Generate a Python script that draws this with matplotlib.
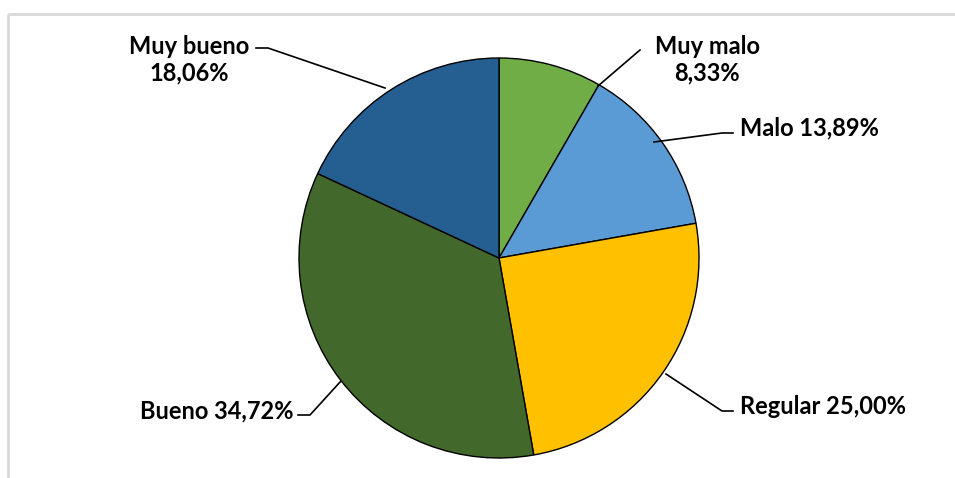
import matplotlib
matplotlib.use("Agg")
import matplotlib.pyplot as plt

categories = ["Muy malo", "Malo", "Regular", "Bueno", "Muy bueno"]
values = [8.33, 13.89, 25.00, 34.72, 18.06]
colors = ["#70AD47", "#5B9BD5", "#FFC000", "#43682B", "#255E91"]
labels = ["Muy malo\n8,33%", "Malo 13,89%", "Regular 25,00%", "Bueno 34,72%", "Muy bueno\n18,06%"]

W, H = 955, 478
fig = plt.figure(figsize=(W / 100, H / 100), dpi=100)
ax = fig.add_axes([0, 0, 1, 1])
ax.set_xlim(0, W)
ax.set_ylim(0, H)
ax.set_aspect("equal")
ax.axis("off")

def Y(p):
    return H - p

cx, cy, r = 499, 258, 200
ax.pie(values, colors=colors, startangle=90, counterclock=False,
       center=(cx, Y(cy)), radius=r,
       wedgeprops=dict(edgecolor="black", linewidth=1.0), frame=True)
ax.set_xlim(0, W)
ax.set_ylim(0, H)
ax.axis("off")

# chart frame (top and left edges visible)
ax.plot([7.5, W], [Y(14), Y(14)], color="#D9D9D9", lw=2, solid_capstyle="butt")
ax.plot([7.5, 7.5], [Y(14), 0], color="#D9D9D9", lw=2, solid_capstyle="butt")

font = dict(family=["Lato", "DejaVu Sans"], fontsize=17, fontweight="bold", color="black")

# label layout: (text x, text y, ha, leader points)
layout = [
    (707, 60, "center", [(598, 86), (640, 50)]),
    (740, 128, "left", [(654, 142), (722, 133), (733, 133)]),
    (740, 407, "left", [(666, 374), (722, 411), (733, 411)]),
    (293, 411, "right", [(341, 381), (310, 415), (298, 415)]),
    (189, 60, "center", [(385, 88), (268, 48), (256, 48)]),
]
for lab, (tx, ty, ha, pts) in zip(labels, layout):
    xs = [p[0] for p in pts]
    ys = [Y(p[1]) for p in pts]
    ax.plot(xs, ys, color="black", lw=1.2)
    ax.text(tx, Y(ty), lab, ha=ha, va="center", linespacing=1.2, **font)

fig.savefig("out.png", dpi=100)
